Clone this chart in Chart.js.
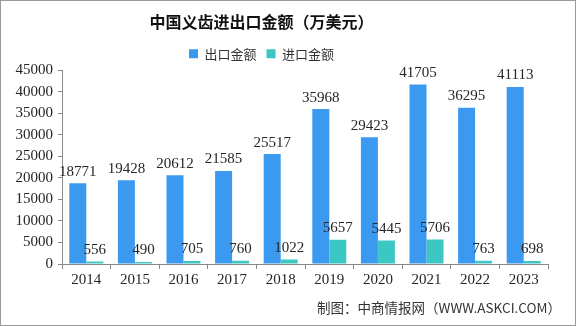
<!DOCTYPE html>
<html>
<head>
<meta charset="utf-8">
<script src="https://cdn.jsdelivr.net/npm/chart.js@4"></script>
<style>
  html, body { margin: 0; padding: 0; background: #fff; }
  #wrap { position: relative; width: 576px; height: 326px; box-sizing: border-box; border: 1px solid #9a9a9a; }
  canvas { display: block; }
</style>
</head>
<body>
<div id="wrap"><canvas id="chart" width="574" height="324"></canvas></div>
<script>
// years and trade values (10k USD)
const years = ["2014", "2015", "2016", "2017", "2018", "2019", "2020", "2021", "2022", "2023"];
const exportValues = [18771, 19428, 20612, 21585, 25517, 35968, 29423, 41705, 36295, 41113];
const importValues = [556, 490, 705, 760, 1022, 5657, 5445, 5706, 763, 698];
const yTicks = [0, 5000, 10000, 15000, 20000, 25000, 30000, 35000, 40000, 45000];

const serif = "'Liberation Serif', 'DejaVu Serif', serif";
const sans = "'Noto Sans CJK SC', 'Noto Sans', sans-serif";

// Title and legend sit a bit left of the canvas centre in the original
const shiftHeader = {
  id: "shiftHeader",
  afterLayout(chart) {
    [chart.titleBlock, chart.legend].forEach((box) => {
      if (!box) return;
      box.left -= 13;
      box.right -= 13;
    });
  },
};

// Draws the value above each bar, plus the source note at bottom right
const barLabels = {
  id: "barLabels",
  afterDatasetsDraw(chart) {
    let ctx = chart.ctx;
    ctx.save();
    ctx.font = "15px " + serif;
    ctx.fillStyle = "#262626";
    ctx.textAlign = "center";
    ctx.textBaseline = "bottom";
    chart.data.datasets.forEach((ds, i) => {
      chart.getDatasetMeta(i).data.forEach((bar, j) => {
        ctx.fillText(ds.data[j], bar.x, bar.y - 4);
      });
    });
    ctx.font = "13.5px " + sans;
    ctx.textAlign = "right";
    ctx.textBaseline = "middle";
    ctx.fillStyle = "#333";
    ctx.fillText("制图：中商情报网（WWW.ASKCI.COM）", chart.width - 14, 307);
    ctx.restore();
  },
};

new Chart(document.getElementById("chart"), {
  type: "bar",
  data: {
    labels: years,
    datasets: [
      { label: "出口金额", data: exportValues, backgroundColor: "#3B9AF0", barPercentage: 1, categoryPercentage: 0.7 },
      { label: "进口金额", data: importValues, backgroundColor: "#3CC7C5", barPercentage: 1, categoryPercentage: 0.7 },
    ],
  },
  options: {
    responsive: false,
    animation: false,
    layout: { padding: { left: 0, right: 27, top: 0, bottom: 34 } },
    plugins: {
      title: {
        display: true,
        text: "中国义齿进出口金额（万美元）",
        font: { family: serif + ", 'Noto Sans CJK SC'", size: 16, weight: "bold" },
        color: "#111",
        padding: { top: 13, bottom: 4 },
      },
      legend: {
        labels: {
          boxWidth: 9,
          boxHeight: 9,
          font: { family: sans, size: 13 },
          color: "#333",
          padding: 10,
        },
      },
      tooltip: { enabled: false },
    },
    scales: {
      x: {
        grid: { offset: true, drawOnChartArea: false, tickLength: 5, color: "#888" },
        border: { color: "#888" },
        ticks: { font: { family: serif, size: 15 }, color: "#262626", padding: 2 },
      },
      y: {
        min: 0,
        max: 45000,
        afterFit(scale) { scale.width = 61; },
        afterBuildTicks(scale) { scale.ticks = yTicks.map((v) => ({ value: v })); },
        grid: { drawOnChartArea: false, tickLength: 4, color: "#888" },
        border: { color: "#888" },
        ticks: {
          font: { family: serif, size: 15 },
          color: "#262626",
          padding: 5,
          callback: (v) => String(v),
        },
      },
    },
  },
  plugins: [shiftHeader, barLabels],
});
</script>
</body>
</html>
